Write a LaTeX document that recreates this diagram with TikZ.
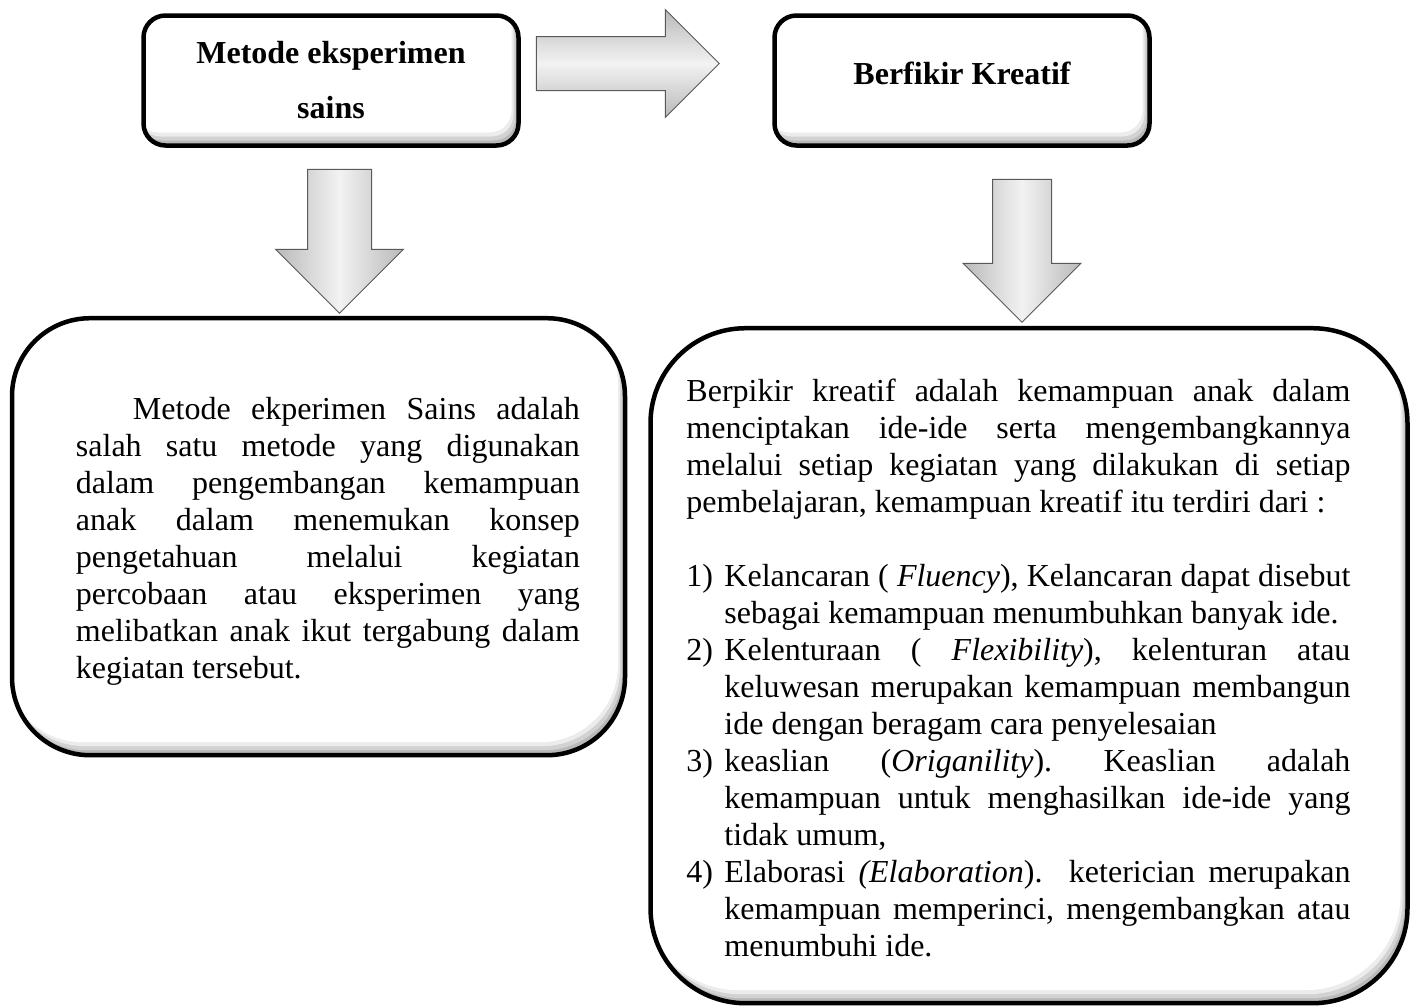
\documentclass[tikz,border=0pt]{standalone}
\usepackage{fontspec}
\setmainfont{Liberation Serif}
\usetikzlibrary{positioning,calc,shapes.arrows}
\tikzset{bevel box/.style={draw=black, line width=4.5pt, rounded corners=#1, fill=gray!55,
    path picture={
      \foreach \dx/\dy/\col in {3/5/gray!35, 5/9/gray!15, 7/13/white}
        \fill[\col, rounded corners=#1] ($(path picture bounding box.south west)+(-\dx,-\dy)$) rectangle ($(path picture bounding box.north east)+(-\dx,-\dy)$);
    }}}
\tikzset{block arrow/.style={single arrow, draw=black!65, line width=1pt, single arrow head indent=0pt, minimum width=0pt, anchor=tail}}
\tikzset{across/.style={top color=gray!55, bottom color=gray!55, middle color=gray!10}}
\tikzset{along/.style={left color=gray!55, right color=gray!55, middle color=gray!10}}
\newcommand{\headfont}{\bfseries\fontsize{32}{55}\selectfont}
\newcommand{\bodyfont}{\fontsize{32}{37}\selectfont\pretolerance=10000 \frenchspacing\setlength{\parindent}{0pt}}
\tikzset{heading/.style={font=\headfont, align=center}}
\tikzset{bodytext/.style={font=\bodyfont, align=justify, inner sep=0pt, anchor=north west}}
\newcommand{\numitem}[1]{\par\noindent\hangindent=38pt\hangafter=1\makebox[38pt][l]{#1}}

\begin{document}
\begin{tikzpicture}[x=1pt, y=-1pt]
\path[use as bounding box, fill=white] (0,0) rectangle (1418,1007);
%--------------------
% top boxes
%--------------------
\node[bevel box=22pt, minimum width=375pt, minimum height=130pt, heading](metode) at (331,80.5){Metode eksperimen\\sains};
\node[bevel box=22pt, minimum width=375pt, minimum height=130pt, heading, text height=22pt, text depth=15pt](kreatif) at (962,80.5){Berfikir Kreatif};

%--------------------
% arrows
%--------------------
\node[block arrow, across, inner sep=26.5pt, single arrow head extend=27pt, minimum height=183pt](toKreatif) at ($(metode.east)+(15,-17)$){};
\node[block arrow, along, shape border rotate=270, inner sep=31.5pt, single arrow head extend=32pt, minimum height=144pt](downMetode) at ($(metode.south)+(8.5,21)$){};
\node[block arrow, along, shape border rotate=270, inner sep=29pt, single arrow head extend=29.5pt, minimum height=143pt](downKreatif) at ($(kreatif.south)+(60,31)$){};

%--------------------
% big boxes
%--------------------
\node[bevel box=78pt, minimum width=613pt, minimum height=437pt, below=2pt of downMetode.tip, xshift=-21pt](metodeDef){};
\node[bevel box=95pt, minimum width=757pt, minimum height=675pt, below=3pt of downKreatif.tip, xshift=7pt](kreatifDef){};

\node[bodytext, text width=504pt](metodeText) at ($(metodeDef.north west)+(66,81)$){%
\hspace*{57pt}Metode ekperimen Sains adalah\linebreak salah satu metode yang digunakan\linebreak dalam pengembangan kemampuan\linebreak anak dalam menemukan konsep\linebreak pengetahuan melalui kegiatan\linebreak percobaan atau eksperimen yang\linebreak melibatkan anak ikut tergabung dalam\linebreak kegiatan tersebut.\par};

\node[bodytext, text width=664pt](kreatifText) at ($(kreatifDef.north west)+(38,53)$){%
Berpikir kreatif adalah kemampuan anak dalam\linebreak menciptakan ide-ide serta mengembangkannya\linebreak melalui setiap kegiatan yang dilakukan di setiap\linebreak pembelajaran, kemampuan kreatif itu terdiri dari :\par
\vskip37pt
\numitem{1)}Kelancaran ( \textit{Fluency}), Kelancaran dapat disebut\linebreak sebagai kemampuan menumbuhkan banyak ide.
\numitem{2)}Kelenturaan ( \textit{Flexibility}), kelenturan atau\linebreak keluwesan merupakan kemampuan membangun\linebreak ide dengan beragam cara penyelesaian
\numitem{3)}keaslian (\textit{Origanility}). Keaslian adalah\linebreak kemampuan untuk menghasilkan ide-ide yang\linebreak tidak umum,
\numitem{4)}Elaborasi \textit{(Elaboration}).\ \ keterician merupakan\linebreak kemampuan memperinci, mengembangkan atau\linebreak menumbuhi ide.\par};
\end{tikzpicture}
\end{document}
